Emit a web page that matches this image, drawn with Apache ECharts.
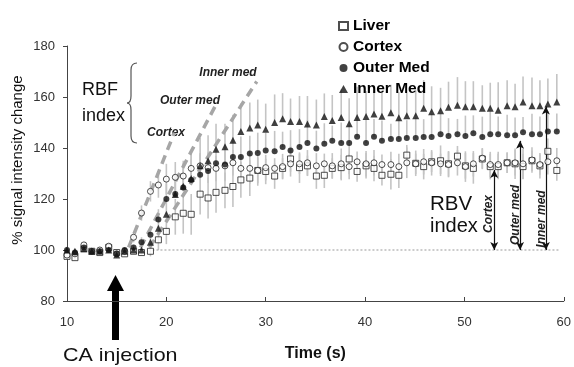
<!DOCTYPE html>
<html>
<head>
<meta charset="utf-8">
<script src="https://cdn.jsdelivr.net/npm/echarts@6/dist/echarts.min.js"></script>
<style>html,body{margin:0;padding:0;background:#fff}#c{width:574px;height:367px}</style>
</head>
<body>
<div id="c"></div>
<script>
const time = [10.0,10.8,11.7,12.5,13.3,14.2,15.0,15.8,16.7,17.5,
  18.4,19.2,20.0,20.9,21.7,22.5,23.4,24.2,25.0,25.9,
  26.7,27.5,28.4,29.2,30.0,30.9,31.7,32.5,33.4,34.2,
  35.1,35.9,36.7,37.6,38.4,39.2,40.1,40.9,41.7,42.6,
  43.4,44.2,45.1,45.9,46.7,47.6,48.4,49.3,50.1,50.9,
  51.8,52.6,53.4,54.3,55.1,55.9,56.8,57.6,58.4,59.3];
const liver = [97.5,97,100.5,99.5,99,101,99,98.5,99.5,99,99.5,
  104,107.3,113,114.4,114,121.9,120.4,122.6,123.4,124.9,127.5,128.2,131.2,
  130.8,129,132,135.7,132.3,133,129,129.3,132,132.3,135.7,130.8,133,132,129.3,129.7,
  129.3,137.2,134,132.7,134.6,135,133.8,136.8,133,132,135.7,132.7,132.7,134.2,133.8,
  132.7,135,133,138.7,131.2];
const cortex = [98,98.5,102,99.5,100,101.5,98.5,99.5,105,114.5,123,
  125.5,127.8,128.5,129,132,133,132.3,132,133,134.2,132,132,131.2,
  132.3,132,132.7,133.8,133.8,134.2,133,133.8,133,133.8,132.7,134.6,133.8,134.2,133.5,133.5,
  132.7,134.2,133.8,134.6,134.2,133.8,133.5,134.2,132.7,133.8,136,133.5,133.5,134.2,134.2,
  133.8,135.3,133.5,134.6,135];
const outerMed = [100,99,101,99.5,99.5,100,98.5,100,101,103,106,
  112,120,122,124.5,127.5,129.5,131,134,133.5,136.5,136.5,137.8,138,
  139,138.7,140.4,139,140.4,142,139.8,141.7,142.8,142,142,144.4,142,144.4,142.8,143.5,
  143.5,143.9,143.9,144.3,144.3,145.4,144.7,145.4,144.7,145.8,144.3,145.4,145.4,145,145,
  146.2,145.4,145.4,146.5,146.5];
const innerMed = [100,99.5,100.5,99.5,99.5,100,98,99.5,100,100,103,
  108.5,114,121.8,125,128,133,135,139.5,140.5,143,146.5,147.8,149,
  147.4,150,151.5,150.4,150.4,149.4,149,152.4,150.8,152,149.5,152,152.4,153.3,152.5,153.8,
  151.9,152.6,152.6,155.6,154.2,154.6,156,156.8,156.2,156.2,155.6,155.6,154.8,156.6,156.2,
  158,156.6,156.6,157.3,158];
// error bar half-widths
const liverErr = [1,1,1,1,1,1,1,1,1,1,2,
  4,5,7,8,8,8,8,8,7,8,7,7,6,
  5,5,4,5,6,4,5,5,4,5,6,4,5,5,4,6,5,4,5,5,4,6,5,4,5,6,4,5,5,4,6,5,4,5,5,4];
const cortexErr = [1,1,1,1,1,1,1,1,2,3,4,
  5,6,6,6,6,5,6,5,6,5,5,6,5,
  5,4,5,5,4,5,5,4,5,6,5,4,5,5,4,5,5,6,4,5,5,4,5,5,6,5,4,5,5,4,5,6,5,4,5,5];
const outerErr = [1,1,1,1,1,1,1,1,1,2,3,
  4,6,7,8,8,8,7,8,8,7,8,7,8,
  7,8,6,8,7,9,7,8,6,8,7,8,9,7,8,6,8,7,8,7,9,8,7,6,8,7,8,9,7,8,7,6,8,7,8,7];
const innerErr = [1,1,1,1,1,1,1,1,1,1,2,
  4,6,8,9,10,11,10,10,9,10,11,10,10,
  10,11,10,9,10,11,10,9,10,11,10,12,10,9,10,11,10,9,10,11,10,9,10,11,10,10,9,10,11,10,9,10,11,10,10,11];
// RBF index dashed slopes [start, end]
const rbfCortex = [[16.2,101],[20.8,146]];
const rbfOuter = [[17.4,101],[24.9,156.3]];
const rbfInner = [[18.3,101],[29.1,166.1]];
// baseline and RBV index arrows [time, top]
const baseline = [[18.6,100],[59.6,100]];
const rbvArrows = [[53.0,131.4],[55.6,142.8],[58.2,156.3]];
const xTicks = [10,20,30,40,50,60];
const yTicks = [80,100,120,140,160,180];

const FONT = "'Liberation Sans', Arial, sans-serif";
const pairs = (vals) => time.map((t, i) => [t, vals[i]]);
function errData(vals, err, upOnly) {
  return time.map((t, i) => [t, upOnly ? vals[i] : vals[i] - err[i], vals[i] + err[i]]);
}
function errSeries(vals, err, upOnly) {
  return {
    type: 'custom', silent: true, z: 1,
    data: errData(vals, err, upOnly),
    encode: {x: 0, y: [1, 2]},
    renderItem: function (params, api) {
      const a = api.coord([api.value(0), api.value(1)]);
      const b = api.coord([api.value(0), api.value(2)]);
      return {type: 'line', shape: {x1: a[0], y1: a[1], x2: b[0], y2: b[1]},
        style: {stroke: '#c4c4c4', lineWidth: 1.6}};
    }
  };
}
function dashed(d) {
  return {type: 'line', data: d, symbol: 'none', silent: true, z: 3,
    lineStyle: {color: '#a6a6a6', width: 3.5, type: [9, 6]}};
}
const braceStyle = {stroke: '#555', lineWidth: 1.2, fill: 'none'};
const brace = [
  {type: 'bezierCurve', shape: {x1: 137, y1: 63, cpx1: 131, cpy1: 63, x2: 131, y2: 70}, style: braceStyle},
  {type: 'line', shape: {x1: 131, y1: 70, x2: 131, y2: 96}, style: braceStyle},
  {type: 'bezierCurve', shape: {x1: 131, y1: 96, cpx1: 131, cpy1: 103, x2: 127, y2: 103}, style: braceStyle},
  {type: 'bezierCurve', shape: {x1: 127, y1: 103, cpx1: 131, cpy1: 103, x2: 131, y2: 110}, style: braceStyle},
  {type: 'line', shape: {x1: 131, y1: 110, x2: 131, y2: 136}, style: braceStyle},
  {type: 'bezierCurve', shape: {x1: 131, y1: 136, cpx1: 131, cpy1: 143, x2: 137, y2: 143}, style: braceStyle}
];
const smallLabel = (text, x, y, rot) => ({type: 'text', x: x, y: y, rotation: rot || 0,
  style: {text: text, fontFamily: FONT, fontSize: 12, fontWeight: 'bold', fontStyle: 'italic', fill: '#222', align: 'center', verticalAlign: 'middle'}});

const chart = echarts.init(document.getElementById('c'), null, {renderer: 'canvas'});
chart.setOption({
  animation: false,
  backgroundColor: '#fff',
  grid: {left: 67, right: 7, top: 46, bottom: 54},
  legend: {
    orient: 'vertical', left: 333, top: 13, itemGap: 5, itemWidth: 9, itemHeight: 8,
    data: ['Liver', 'Cortex', 'Outer Med', 'Inner Med'],
    textStyle: {fontFamily: FONT, fontSize: 15.5, fontWeight: 'bold', color: '#000', lineHeight: 16}
  },
  xAxis: {
    type: 'value', min: xTicks[0], max: xTicks[xTicks.length - 1], interval: 10,
    name: 'Time (s)', nameLocation: 'middle', nameGap: 45,
    nameTextStyle: {fontFamily: FONT, fontSize: 16, fontWeight: 'bold', color: '#111'},
    axisLine: {lineStyle: {color: '#444', width: 1}},
    axisTick: {inside: true, length: 4, lineStyle: {color: '#444'}},
    axisLabel: {fontFamily: FONT, fontSize: 13, color: '#333', margin: 15},
    splitLine: {show: false}
  },
  yAxis: {
    type: 'value', min: yTicks[0], max: yTicks[yTicks.length - 1], interval: 20,
    axisLine: {show: true, lineStyle: {color: '#444', width: 1}},
    axisTick: {show: true, length: 4, lineStyle: {color: '#444'}},
    axisLabel: {fontFamily: FONT, fontSize: 13, color: '#333', margin: 12},
    splitLine: {show: false}
  },
  series: [
    errSeries(liver, liverErr, false),
    errSeries(cortex, cortexErr, false),
    errSeries(outerMed, outerErr, true),
    errSeries(innerMed, innerErr, true),
    {type: 'line', data: baseline, symbol: 'none', silent: true, z: 1,
      lineStyle: {color: '#999', width: 1, type: [2, 2]},
      markLine: {
        silent: true, symbol: ['arrow', 'arrow'], symbolSize: [6, 8], precision: 2,
        label: {show: false},
        lineStyle: {color: '#111', width: 1.2, type: 'solid'},
        data: rbvArrows.map(a => [{coord: [a[0], 100]}, {coord: [a[0], a[1]]}])
      }},
    dashed(rbfCortex), dashed(rbfOuter), dashed(rbfInner),
    {name: 'Liver', type: 'scatter', data: pairs(liver), symbol: 'rect', symbolSize: 6, z: 5,
      itemStyle: {color: '#fff', borderColor: '#222', borderWidth: 1}},
    {name: 'Cortex', type: 'scatter', data: pairs(cortex), symbol: 'circle', symbolSize: 6, z: 5,
      itemStyle: {color: '#fff', borderColor: '#222', borderWidth: 1}},
    {name: 'Outer Med', type: 'scatter', data: pairs(outerMed), symbol: 'circle', symbolSize: 6, z: 5,
      itemStyle: {color: '#111'}},
    {name: 'Inner Med', type: 'scatter', data: pairs(innerMed), symbol: 'triangle', symbolSize: 7, z: 5,
      itemStyle: {color: '#111'}}
  ],
  graphic: [
    {type: 'text', x: 18, y: 160, rotation: Math.PI / 2,
      style: {text: '% signal intensity change', fontFamily: FONT, fontSize: 15, fill: '#111', align: 'center', verticalAlign: 'middle'}},
    {type: 'polygon', shape: {points: [[112,340],[119,340],[119,291],[124,291],[115.5,275],[107,291],[112,291]]},
      style: {fill: '#000'}},
    {type: 'text', x: 63, y: 356, scaleX: 1.13,
      style: {text: 'CA injection', fontFamily: FONT, fontSize: 19, fill: '#111', verticalAlign: 'middle'}},
    {type: 'text', x: 82, y: 90,
      style: {text: 'RBF', fontFamily: FONT, fontSize: 18, fill: '#111', verticalAlign: 'middle'}},
    {type: 'text', x: 82, y: 116,
      style: {text: 'index', fontFamily: FONT, fontSize: 18, fill: '#111', verticalAlign: 'middle'}}
  ].concat(brace, [
    smallLabel('Inner med', 228, 73),
    smallLabel('Outer med', 190, 101),
    smallLabel('Cortex', 166, 133),
    {type: 'text', x: 430, y: 204,
      style: {text: 'RBV', fontFamily: FONT, fontSize: 20.5, fill: '#111', verticalAlign: 'middle'}},
    {type: 'text', x: 430, y: 226,
      style: {text: 'index', fontFamily: FONT, fontSize: 20, fill: '#111', verticalAlign: 'middle'}},
    smallLabel('Cortex', 489, 214, Math.PI / 2),
    smallLabel('Outer med', 516, 215, Math.PI / 2),
    smallLabel('Inner med', 542, 219, Math.PI / 2)
  ])
});
</script>
</body>
</html>
